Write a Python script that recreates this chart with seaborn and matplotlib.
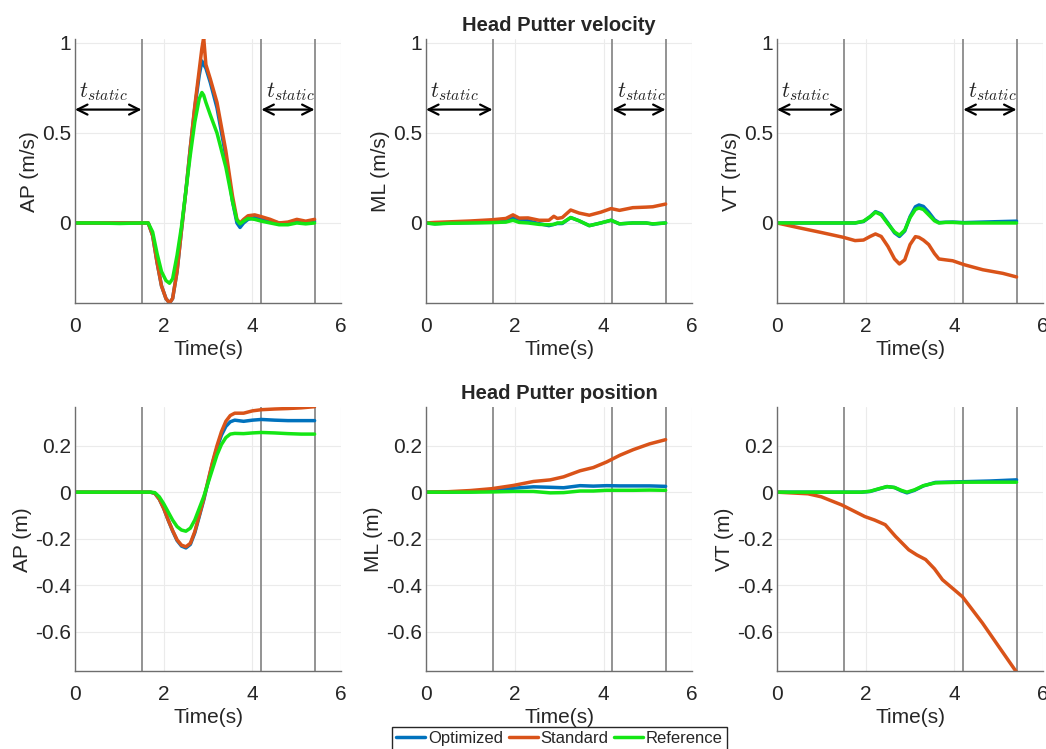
import matplotlib
matplotlib.use("Agg")
import matplotlib.pyplot as plt
import seaborn as sns

# Colours (MATLAB defaults + bright green)
c_opt = "#0072BD"
c_std = "#D95319"
c_ref = "#14E614"

# ---- Velocity: AP ----
t_ap_vel = [0, 0.5, 1.0, 1.5, 1.65, 1.75, 1.85, 1.95, 2.05, 2.13, 2.2, 2.3, 2.4, 2.5, 2.6, 2.7, 2.8,
            2.86, 2.9, 2.95, 3.05, 3.2, 3.4, 3.55, 3.65, 3.72, 3.8, 3.9, 4.05, 4.2, 4.4, 4.6, 4.8, 5.0, 5.2, 5.4]
ap_vel_opt = [0, 0, 0, 0, 0, -0.07, -0.22, -0.35, -0.42, -0.445, -0.42, -0.27, -0.04, 0.18, 0.42, 0.64, 0.82,
              0.9, 0.88, 0.86, 0.78, 0.64, 0.37, 0.12, 0.0, -0.025, 0.0, 0.02, 0.03, 0.02, 0.01, 0.0, 0.0, 0.01, 0.005, 0.01]
ap_vel_std = [0, 0, 0, 0, 0, -0.07, -0.22, -0.35, -0.42, -0.445, -0.42, -0.27, -0.04, 0.18, 0.42, 0.65, 0.85,
              0.97, 1.03, 0.88, 0.80, 0.67, 0.40, 0.15, 0.02, 0.0, 0.02, 0.04, 0.045, 0.035, 0.02, 0.0, 0.005, 0.02, 0.01, 0.02]
ap_vel_ref = [0, 0, -0.003, 0, 0, -0.05, -0.17, -0.27, -0.32, -0.335, -0.31, -0.18, -0.02, 0.18, 0.38, 0.56, 0.69,
              0.725, 0.71, 0.67, 0.60, 0.50, 0.31, 0.12, 0.015, -0.005, 0.01, 0.025, 0.02, 0.01, 0.0, -0.01, -0.01, 0.0, -0.005, 0.0]

# ---- Velocity: ML ----
t_ml_vel = [0, 0.2, 0.5, 1.0, 1.5, 1.8, 1.96, 2.1, 2.3, 2.55, 2.77, 2.88, 2.96, 3.07, 3.26, 3.45,
            3.68, 3.94, 4.17, 4.36, 4.66, 4.96, 5.11, 5.4]
ml_vel_opt = [0, -0.004, 0.0, 0.002, 0.004, 0.008, 0.03, 0.018, 0.012, -0.004, -0.015, -0.008, -0.003, -0.003,
              0.03, 0.012, -0.015, 0.0, 0.015, -0.005, 0.0, 0.0, -0.006, 0.0]
ml_vel_std = [0, 0.003, 0.006, 0.011, 0.018, 0.025, 0.045, 0.027, 0.028, 0.015, 0.015, 0.037, 0.025, 0.03,
              0.072, 0.055, 0.043, 0.06, 0.08, 0.07, 0.085, 0.088, 0.09, 0.105]
ml_vel_ref = [0, -0.006, -0.002, 0.0, 0.002, 0.005, 0.015, 0.003, 0.0, -0.008, -0.01, -0.008, 0.0, 0.0,
              0.03, 0.012, -0.015, 0.0, 0.015, -0.005, 0.0, 0.0, -0.005, 0.0]

# ---- Velocity: VT ----
t_vt_vel = [0, 0.5, 1.0, 1.5, 1.76, 1.95, 2.1, 2.22, 2.35, 2.5, 2.65, 2.76, 2.88, 3.0, 3.12, 3.2, 3.3,
            3.42, 3.55, 3.65, 3.8, 3.96, 4.22, 4.64, 5.09, 5.4]
vt_vel_opt = [0, 0, 0, 0, 0.0, 0.008, 0.035, 0.063, 0.05, 0.0, -0.055, -0.075, -0.045, 0.035, 0.09, 0.1, 0.092,
              0.06, 0.018, 0.002, 0.004, 0.005, 0.002, 0.005, 0.008, 0.01]
vt_vel_std = [0, -0.027, -0.053, -0.08, -0.098, -0.095, -0.075, -0.061, -0.075, -0.13, -0.2, -0.228, -0.205,
              -0.12, -0.076, -0.08, -0.095, -0.12, -0.17, -0.2, -0.205, -0.21, -0.232, -0.26, -0.28, -0.3]
vt_vel_ref = [0, 0, 0, 0, 0.0, 0.01, 0.035, 0.06, 0.045, -0.005, -0.05, -0.068, -0.04, 0.03, 0.075, 0.083, 0.075,
              0.045, 0.012, 0.0, 0.003, 0.003, 0.0, 0.0, 0.0, 0.0]

# ---- Position: AP ----
t_ap_pos = [0, 1.0, 1.7, 1.8, 1.9, 2.0, 2.1, 2.2, 2.3, 2.4, 2.5, 2.6, 2.7, 2.8, 2.9, 3.0, 3.1, 3.2, 3.3,
            3.4, 3.5, 3.6, 3.8, 4.0, 4.2, 4.5, 4.8, 5.1, 5.4]
ap_pos_opt = [0, 0, 0, -0.005, -0.03, -0.07, -0.12, -0.167, -0.208, -0.232, -0.24, -0.225, -0.175, -0.105, -0.035,
              0.045, 0.125, 0.19, 0.245, 0.283, 0.303, 0.31, 0.305, 0.31, 0.313, 0.31, 0.308, 0.308, 0.308]
ap_pos_std = [0, 0, 0, -0.005, -0.03, -0.07, -0.12, -0.165, -0.205, -0.228, -0.235, -0.22, -0.17, -0.10, -0.03,
              0.05, 0.13, 0.2, 0.26, 0.305, 0.33, 0.34, 0.34, 0.35, 0.355, 0.358, 0.36, 0.363, 0.368]
ap_pos_ref = [0, 0, 0, -0.002, -0.02, -0.05, -0.085, -0.12, -0.148, -0.163, -0.168, -0.155, -0.12, -0.07, -0.02,
              0.04, 0.1, 0.16, 0.205, 0.235, 0.25, 0.253, 0.252, 0.255, 0.257, 0.255, 0.252, 0.25, 0.25]

# ---- Position: ML ----
t_ml_pos = [0, 0.5, 1.0, 1.48, 1.97, 2.42, 2.8, 3.1, 3.47, 3.77, 4.07, 4.37, 4.67, 5.04, 5.4]
ml_pos_opt = [0, 0.0, 0.002, 0.006, 0.017, 0.023, 0.021, 0.019, 0.028, 0.026, 0.028, 0.027, 0.027, 0.027, 0.025]
ml_pos_std = [0, 0.002, 0.007, 0.015, 0.029, 0.046, 0.053, 0.066, 0.092, 0.106, 0.13, 0.159, 0.183, 0.208, 0.226]
ml_pos_ref = [0, 0, 0, 0.001, 0.003, 0.003, -0.003, -0.002, 0.005, 0.005, 0.008, 0.008, 0.008, 0.009, 0.008]

# ---- Position: VT ----
t_vt_pos = [0, 1.0, 1.9, 2.1, 2.3, 2.48, 2.65, 2.8, 2.93, 3.1, 3.3, 3.57, 4.2, 4.8, 5.4]
vt_pos_opt = [0, 0, 0, 0.003, 0.014, 0.024, 0.02, 0.006, -0.003, 0.008, 0.027, 0.042, 0.045, 0.048, 0.053]
vt_pos_ref = [0, 0, 0, 0.004, 0.015, 0.024, 0.02, 0.008, 0.0, 0.01, 0.028, 0.04, 0.043, 0.043, 0.043]
t_vt_pos_std = [0, 0.7, 1.0, 1.46, 1.98, 2.2, 2.44, 2.67, 2.97, 3.15, 3.35, 3.55, 3.73, 4.18, 4.63, 5.0, 5.4]
vt_pos_std = [0, -0.007, -0.02, -0.055, -0.105, -0.12, -0.14, -0.19, -0.248, -0.27, -0.29, -0.33, -0.377,
              -0.45, -0.563, -0.665, -0.775]

# static-window markers (s)
static_lines = [1.5, 4.2, 5.4]
static_windows = [(0, 1.5), (4.2, 5.4)]

series_labels = ["Optimized", "Standard", "Reference"]

panels = [
    # (row, col, ylabel, [(t, y, colour), ...])
    (0, 0, "AP (m/s)", [(t_ap_vel, ap_vel_opt, c_opt), (t_ap_vel, ap_vel_std, c_std), (t_ap_vel, ap_vel_ref, c_ref)]),
    (0, 1, "ML (m/s)", [(t_ml_vel, ml_vel_opt, c_opt), (t_ml_vel, ml_vel_std, c_std), (t_ml_vel, ml_vel_ref, c_ref)]),
    (0, 2, "VT (m/s)", [(t_vt_vel, vt_vel_opt, c_opt), (t_vt_vel, vt_vel_std, c_std), (t_vt_vel, vt_vel_ref, c_ref)]),
    (1, 0, "AP (m)", [(t_ap_pos, ap_pos_opt, c_opt), (t_ap_pos, ap_pos_std, c_std), (t_ap_pos, ap_pos_ref, c_ref)]),
    (1, 1, "ML (m)", [(t_ml_pos, ml_pos_opt, c_opt), (t_ml_pos, ml_pos_std, c_std), (t_ml_pos, ml_pos_ref, c_ref)]),
    (1, 2, "VT (m)", [(t_vt_pos, vt_pos_opt, c_opt), (t_vt_pos_std, vt_pos_std, c_std), (t_vt_pos, vt_pos_ref, c_ref)]),
]

sns.set_style("whitegrid")
plt.rcParams["font.family"] = ["Liberation Sans", "DejaVu Sans"]
plt.rcParams["mathtext.fontset"] = "cm"

fig = plt.figure(figsize=(10.46, 7.49), dpi=100)

col_left = [0.0717, 0.4073, 0.7428]
row_bottom = [0.5954, 0.1041]
ax_w, ax_h = 0.2545, 0.352

axes = {}
for row, col, ylabel, lines in panels:
    ax = fig.add_axes([col_left[col], row_bottom[row], ax_w, ax_h])
    axes[(row, col)] = ax
    for t, y, color in lines:
        sns.lineplot(x=t, y=y, ax=ax, color=color, linewidth=2.5, sort=False, estimator=None)
    for xv in static_lines:
        ax.axvline(xv, color="#8a8a8a", linewidth=1.3, zorder=1)
    ax.set_xlim(0, 6)
    ax.set_xticks([0, 2, 4, 6])
    if row == 0:
        ax.set_ylim(-0.445, 1.02)
        ax.set_yticks([0, 0.5, 1])
        ax.set_yticklabels(["0", "0.5", "1"])
        for a, b in static_windows:
            ax.annotate("", xy=(b, 0.63), xytext=(a, 0.63),
                        arrowprops=dict(arrowstyle="<->", lw=1.6, color="black",
                                        shrinkA=0, shrinkB=0, mutation_scale=18))
            ax.text(a + 0.1, 0.665, r"$t_{static}$", fontsize=16, ha="left", va="bottom")
    else:
        ax.set_ylim(-0.77, 0.365)
        ax.set_yticks([-0.6, -0.4, -0.2, 0, 0.2])
        ax.set_yticklabels(["-0.6", "-0.4", "-0.2", "0", "0.2"])
    ax.grid(True, color="#ebebeb", linewidth=0.8)
    ax.set_axisbelow(True)
    for side in ["top", "right"]:
        ax.spines[side].set_visible(False)
    for side in ["left", "bottom"]:
        ax.spines[side].set_color("#6e6e6e")
        ax.spines[side].set_linewidth(1.0)
    ax.tick_params(axis="both", direction="in", length=3, color="#6e6e6e", labelsize=15, labelcolor="#262626")
    ax.tick_params(axis="x", pad=10)
    ax.tick_params(axis="y", pad=3)
    ax.set_xlabel("Time(s)", fontsize=15, color="#262626", labelpad=3)
    ax.set_ylabel(ylabel, fontsize=15, color="#262626", labelpad=2)

axes[(0, 1)].set_title("Head Putter velocity", fontsize=14.5, fontweight="bold", pad=6)
axes[(1, 1)].set_title("Head Putter position", fontsize=14.5, fontweight="bold", pad=6)

handles = axes[(1, 1)].lines[:3]
fig.legend(handles, series_labels, loc="upper left", bbox_to_anchor=(392 / 1046, 1 - 727 / 749),
           ncol=3, fontsize=12, frameon=True, fancybox=False, edgecolor="#262626", framealpha=1,
           handlelength=1.75, handletextpad=0.15, columnspacing=0.35, borderpad=0.25, borderaxespad=0)

plt.savefig("out.png", dpi=100)
plt.close()
